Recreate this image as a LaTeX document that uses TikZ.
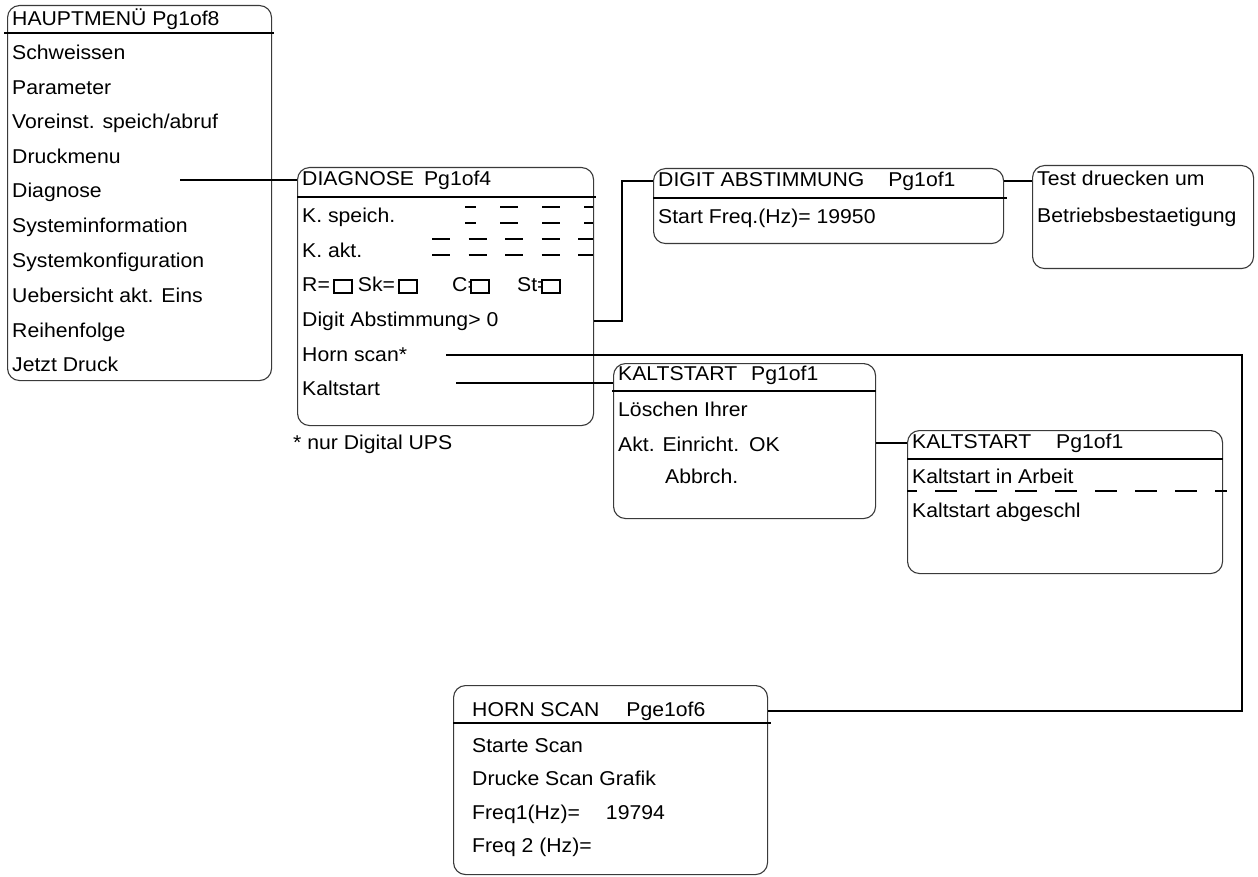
\documentclass[tikz,border=0pt]{standalone}
\usepackage{fontspec}
\setmainfont{Liberation Sans}[FakeStretch=1.06]
\usepackage{tikz}
\usetikzlibrary{positioning,calc}
\definecolor{frame}{HTML}{3A3A3A}
\begin{document}
\begin{tikzpicture}[
  x=1pt,y=-1pt,
  menubox/.style={draw=frame,line width=1.1pt,rounded corners=12pt,anchor=north west,inner sep=0pt},
  menuitem/.style={anchor=base west,inner xsep=5pt,inner ysep=0pt,text height=15pt,text depth=4pt,font=\fontsize{20}{24}\selectfont},
  headrule/.style={line width=2pt},
  wire/.style={line width=2pt},
  fieldline/.style={line width=2pt},
  checkbox/.style={draw,fill=white,line width=1.6pt,minimum width=18pt,minimum height=13pt,inner sep=0pt,anchor=west}
]
\fill[white] (0,0) rectangle (1258,877);
\useasboundingbox (0,0) rectangle (1258,877);
\node[menubox,minimum width=264pt,minimum height=375pt] (hmbox) at (7,5) {};
\node[menubox,minimum width=296pt,minimum height=258pt] (dgbox) at (297,167) {};
\node[menubox,minimum width=350pt,minimum height=75pt] (dabox) at (653,168) {};
\node[menubox,minimum width=221pt,minimum height=103pt] (tbox) at (1032,165) {};
\node[menubox,minimum width=262pt,minimum height=155pt] (k1box) at (613,363) {};
\node[menubox,minimum width=315pt,minimum height=143pt] (k2box) at (907,430) {};
\node[menubox,minimum width=314pt,minimum height=189pt] (hsbox) at (453,685) {};
\draw[headrule] ($(hmbox.north west)+(-3,28)$) -- ($(hmbox.north east)+(2,28)$);
\draw[headrule] ($(dgbox.north west)+(0,30)$) -- ($(dgbox.north east)+(2,30)$);
\draw[headrule] ($(dabox.north west)+(0,30)$) -- ($(dabox.north east)+(3,30)$);
\draw[headrule] ($(k1box.north west)+(-1,28)$) -- ($(k1box.north east)+(0,28)$);
\draw[headrule] ($(k2box.north west)+(0,29)$) -- ($(k2box.north east)+(0,29)$);
\draw[headrule] ($(hsbox.north west)+(0,38)$) -- ($(hsbox.north east)+(3,38)$);
\node[menuitem] (hmt) at (7,26) {HAUPTMENÜ Pg1of8};
\node[menuitem] (hm1) at (7,60) {Schweissen};
\node[menuitem] (hm2) at (7,95) {Parameter};
\node[menuitem] (hm3) at (7,129) {Voreinst. speich/abruf};
\node[menuitem] (hm4) at (7,164) {Druckmenu};
\node[menuitem] (hm5) at (7,198) {Diagnose};
\node[menuitem] (hm6) at (7,233) {Systeminformation};
\node[menuitem] (hm7) at (7,268) {Systemkonfiguration};
\node[menuitem] (hm8) at (7,302) {Uebersicht akt. Eins};
\node[menuitem] (hm9) at (7,337) {Reihenfolge};
\node[menuitem] (hm10) at (7,371) {Jetzt Druck};
\node[menuitem] (dgt) at (297,186) {DIAGNOSE\hspace{10pt}Pg1of4};
\node[menuitem] (dg1) at (297,223) {K. speich.};
\node[menuitem] (dg2) at (297,258) {K. akt.};
\node[menuitem] (rlab) at (297,292) {R=};
\node[checkbox,right=-2pt of rlab] (rbox) {};
\node[menuitem,right=0pt of rbox] (sklab) {Sk=};
\node[checkbox,right=-2pt of sklab] (skbox) {};
\node[menuitem] (clab) at (447,292) {C=};
\node[checkbox] (cbox) at (470,286.5) {};
\node[menuitem] (stlab) at (512,292) {St=};
\node[checkbox] (stbox) at (541,286.5) {};
\node[menuitem] (dg4) at (297,326.5) {Digit Abstimmung> 0};
\node[menuitem] (dg5) at (297,361) {Horn scan*};
\node[menuitem] (dg6) at (297,395.5) {Kaltstart};
\node[menuitem] (note) at (288,449) {* nur Digital UPS};
\draw[line width=1.2pt,dash pattern=on 18pt off 24pt,dash phase=7pt] (465,207) -- (593,207);
\draw[fieldline,dash pattern=on 18pt off 24pt,dash phase=7pt] (465,223) -- (593,223);
\draw[line width=1.2pt,dash pattern=on 18pt off 18.5pt] (432,239) -- (593,239);
\draw[fieldline,dash pattern=on 18pt off 18.5pt] (432,255) -- (593,255);
\node[menuitem] (dat) at (653,187) {DIGIT ABSTIMMUNG\hspace{24pt}Pg1of1};
\node[menuitem] (da1) at (653,224) {Start Freq.(Hz)= 19950};
\node[menuitem] (tt1) at (1032,186) {Test druecken um};
\node[menuitem] (tt2) at (1032,223) {Betriebsbestaetigung};
\node[menuitem] (k1t) at (613,380) {KALTSTART\hspace{14pt}Pg1of1};
\node[menuitem] (k11) at (613,416) {Löschen Ihrer};
\node[menuitem] (k12) at (613,451) {Akt. Einricht.\hspace{10pt}OK};
\node[menuitem] (k13) at (660,483) {Abbrch.};
\node[menuitem] (k2t) at (907,448) {KALTSTART\hspace{25pt}Pg1of1};
\node[menuitem] (k21) at (907,483) {Kaltstart in Arbeit};
\node[menuitem] (k22) at (907,517) {Kaltstart abgeschl};
\draw[fieldline,dash pattern=on 22pt off 18pt,dash phase=12pt] (k2box.west |- 0,491) -- (1227,491);
\node[menuitem] (hst) at (467,716) {HORN SCAN\hspace{27pt}Pge1of6};
\node[menuitem] (hs1) at (467,752) {Starte Scan};
\node[menuitem] (hs2) at (467,785.5) {Drucke Scan Grafik};
\node[menuitem] (hs3) at (467,819) {Freq1(Hz)=\hspace{26pt}19794};
\node[menuitem] (hs4) at (467,852.5) {Freq 2 (Hz)=};
\coordinate (cDiag) at (180,180.5);
\coordinate (cHorn) at (446,355);
\coordinate (cTurn) at (1242,355);
\coordinate (cKalt) at (456,383);
\draw[wire] (cDiag) -- (dgt.west);
\draw[wire] (dg4.west -| dgbox.east) -- ++(28,0) |- (dat.west);
\draw[wire] (dat.west -| dabox.east) -- (dat.west -| tbox.west);
\draw[wire] (cHorn) -- (cTurn) |- (hst.west -| hsbox.east);
\draw[wire] (cKalt) -- (cKalt -| k1box.west);
\draw[wire] (k2t.west -| k1box.east) -- (k2t.west);
\end{tikzpicture}
\end{document}
